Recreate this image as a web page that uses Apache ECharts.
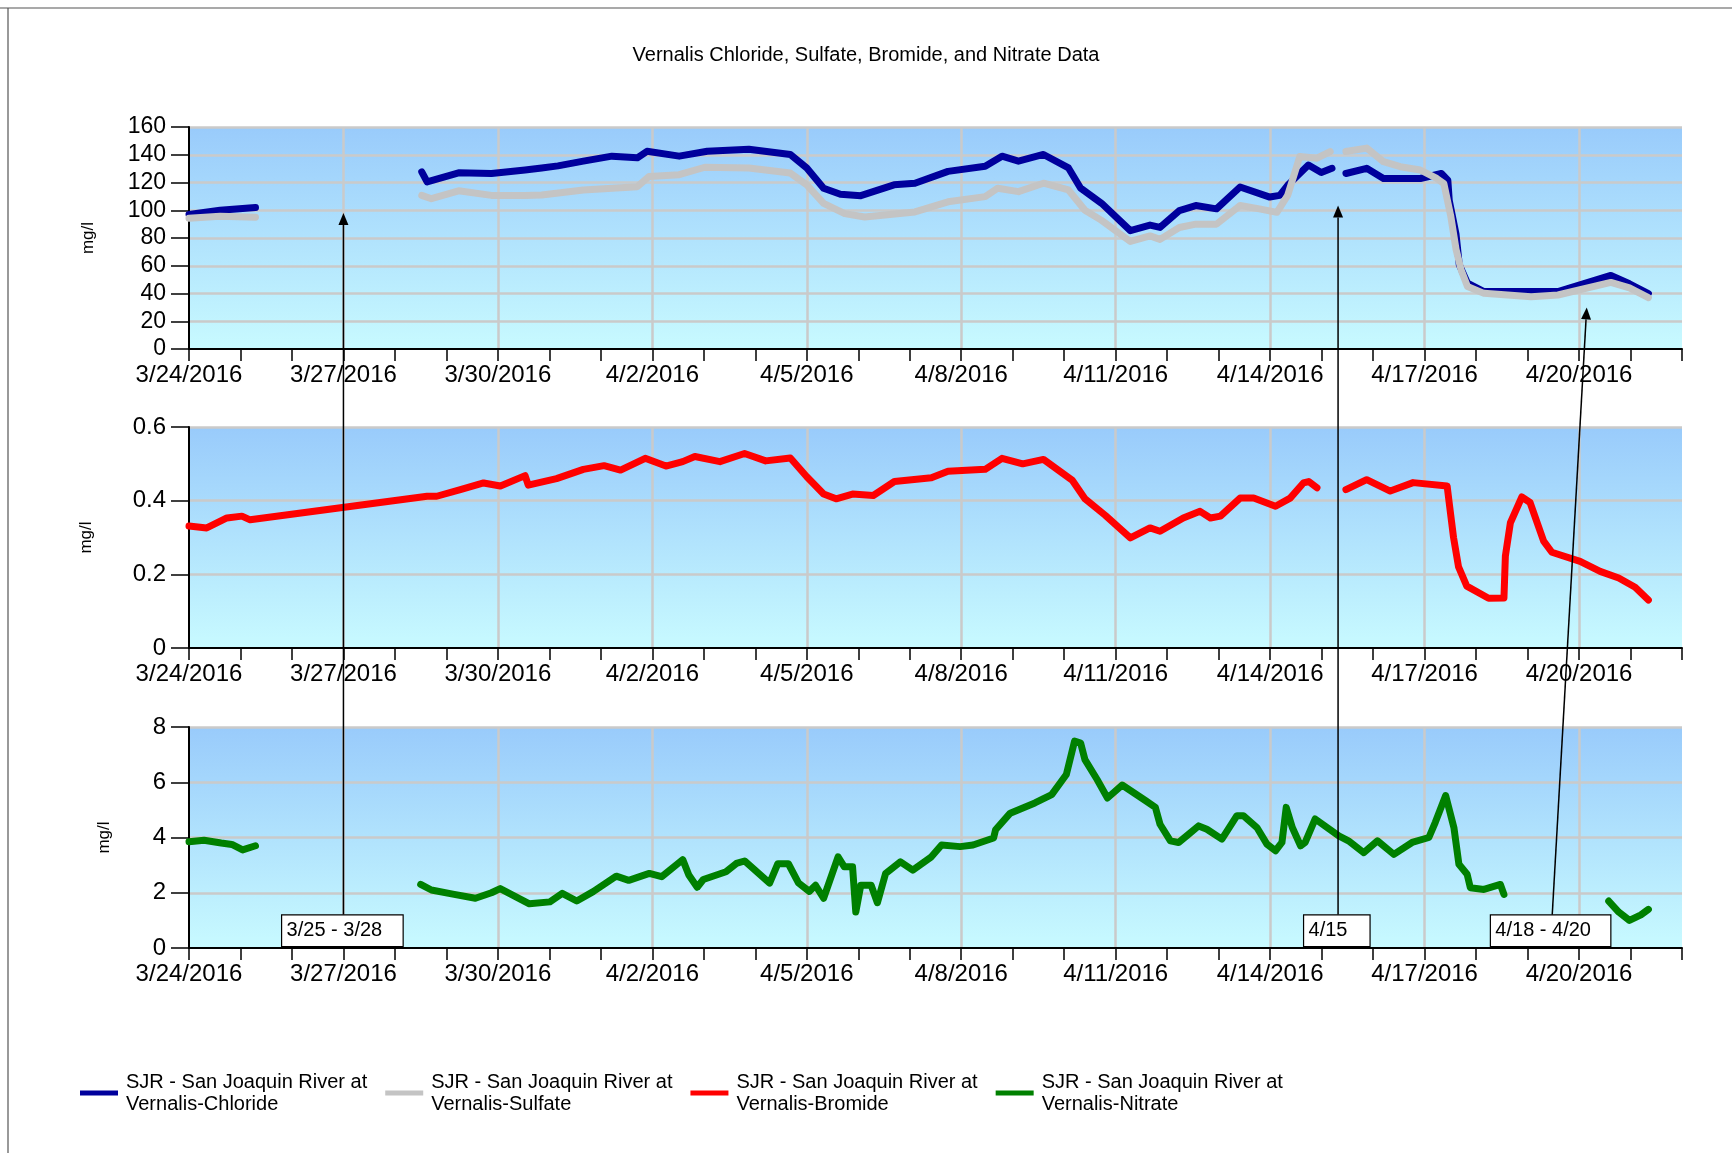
<!DOCTYPE html>
<html><head><meta charset="utf-8">
<script src="https://cdn.jsdelivr.net/npm/echarts@6/dist/echarts.min.js"></script>
<style>html,body{margin:0;padding:0;background:#fff}#c{width:1732px;height:1153px}</style>
</head><body><div id="c"></div><script>
// ---------------- DATA ----------------
const chartTitle = 'Vernalis Chloride, Sulfate, Bromide, and Nitrate Data';
const seriesNames = [
  'SJR - San Joaquin River at\nVernalis-Chloride',
  'SJR - San Joaquin River at\nVernalis-Sulfate',
  'SJR - San Joaquin River at\nVernalis-Bromide',
  'SJR - San Joaquin River at\nVernalis-Nitrate'
];
const axisStartDate = [2016, 3, 24];   // 3/24/2016
const axisDays = 29;                    // through 4/22/2016
const yUnit = 'mg/l';
const yMax = [160, 0.6, 8];
const yStep = [20, 0.2, 2];

// [time (M/D HH:MM, 2016), value]; null = data gap
const chlorideData = [
 ['3/24 00:00',97],['3/24 14:30',100],['3/25 07:00',102],['3/26 12:00',null],
 ['3/28 12:30',127.7],['3/28 15:00',120.4],['3/29 05:40',127],['3/29 21:00',126.5],['3/30 12:40',129],['3/30 20:25',130.5],['3/31 04:00',132],['3/31 15:50',135.4],['4/1 05:10',139],['4/1 17:00',137.8],['4/1 21:30',142.5],['4/2 12:30',139],['4/3 01:35',142.5],['4/3 21:00',143.9],['4/4 16:20',140.2],['4/5 00:00',130.5],['4/5 07:50',115.9],['4/5 15:40',111.5],['4/6 01:10',110.5],['4/6 16:40',118.3],['4/7 02:25',119.5],['4/7 17:50',128],['4/8 11:10',131.7],['4/8 19:00',139],['4/9 02:40',135.4],['4/9 14:20',140.2],['4/10 02:00',130.5],['4/10 07:40',115.9],['4/10 17:25',105],['4/11 06:50',85.3],['4/11 16:00',89.3],['4/11 20:40',87.6],['4/12 05:40',99.8],['4/12 13:20',103.4],['4/12 23:00',101],['4/13 10:00',116.8],['4/13 23:50',109.5],['4/14 04:30',110.7],['4/14 08:10',118],['4/14 17:50',132.6],['4/14 23:50',127.2],['4/15 04:50',130.2],['4/15 08:00',null],
 ['4/15 11:20',126.5],['4/15 21:00',130.2],['4/16 04:50',122.9],['4/16 12:40',122.9],['4/16 22:00',122.9],['4/17 07:50',126.5],['4/17 10:50',121.7],['4/17 11:30',107],['4/17 14:40',82.7],['4/17 16:10',60.8],['4/17 20:00',47.4],['4/18 03:40',41.4],['4/18 11:30',41.4],['4/19 01:40',41.4],['4/19 14:10',41.4],['4/20 14:50',53],['4/20 23:30',47],['4/21 08:20',40]
];
const sulfateData = [
 ['3/24 00:00',94.2],['3/24 14:30',95.6],['3/25 07:00',95],['3/26 12:00',null],
 ['3/28 12:30',110.7],['3/28 17:00',108.3],['3/29 05:40',114],['3/29 21:00',110.7],['3/30 12:40',110.7],['3/30 20:25',111],['3/31 15:50',114.6],['4/1 17:00',117],['4/1 22:30',124.4],['4/2 12:30',125.6],['4/3 00:30',131],['4/3 21:00',130.5],['4/4 16:20',126.8],['4/5 00:00',118.3],['4/5 07:50',104.9],['4/5 17:40',97.6],['4/6 03:00',95.1],['4/7 02:25',98.8],['4/7 17:50',106.1],['4/8 11:10',109.8],['4/8 17:00',115.9],['4/9 02:40',113.4],['4/9 14:20',119.5],['4/10 02:00',114.6],['4/10 09:40',100],['4/10 17:25',92.7],['4/11 06:50',77.5],['4/11 16:00',81.5],['4/11 20:40',79],['4/12 05:40',87.6],['4/12 13:20',90],['4/12 23:00',90],['4/13 10:00',103.4],['4/13 19:00',101],['4/14 03:10',98.5],['4/14 08:10',110.7],['4/14 13:50',138.7],['4/14 21:50',137.5],['4/15 04:00',142.3],['4/15 08:00',null],
 ['4/15 11:20',142.3],['4/15 21:00',144.8],['4/16 04:50',135],['4/16 12:40',131.4],['4/16 22:00',129],['4/17 05:40',122.9],['4/17 09:00',119.2],['4/17 12:10',96.1],['4/17 14:40',71.8],['4/17 17:00',57.2],['4/17 20:00',45],['4/18 03:40',40.1],['4/19 01:40',37.7],['4/19 14:10',38.9],['4/20 14:50',48],['4/20 23:30',44],['4/21 08:20',37]
];
const bromideData = [
 ['3/24 00:00',0.331],['3/24 08:15',0.326],['3/24 17:40',0.353],['3/25 00:40',0.358],['3/25 04:30',0.348],
 ['3/28 15:00',0.412],['3/28 19:30',0.412],['3/29 06:30',0.43],['3/29 17:20',0.448],['3/30 01:10',0.44],['3/30 12:40',0.468],['3/30 14:10',0.442],['3/31 03:20',0.46],['3/31 15:50',0.485],['4/1 01:30',0.495],['4/1 09:10',0.483],['4/1 20:40',0.515],['4/2 06:20',0.494],['4/2 14:10',0.506],['4/2 19:50',0.52],['4/3 07:30',0.506],['4/3 19:00',0.528],['4/4 04:50',0.508],['4/4 16:20',0.516],['4/5 00:00',0.465],['4/5 07:50',0.418],['4/5 13:40',0.405],['4/5 21:20',0.418],['4/6 07:00',0.414],['4/6 16:50',0.452],['4/7 10:05',0.462],['4/7 17:50',0.48],['4/8 11:10',0.485],['4/8 19:00',0.515],['4/9 04:40',0.5],['4/9 14:20',0.512],['4/10 03:50',0.455],['4/10 09:40',0.405],['4/10 19:10',0.36],['4/11 06:50',0.299],['4/11 16:00',0.326],['4/11 20:40',0.317],['4/12 07:30',0.353],['4/12 15:20',0.371],['4/12 20:10',0.353],['4/13 00:50',0.358],['4/13 10:00',0.407],['4/13 16:20',0.407],['4/14 02:30',0.385],['4/14 09:20',0.407],['4/14 15:30',0.448],['4/14 18:00',0.452],['4/14 21:50',0.435],['4/15 04:00',null],
 ['4/15 11:20',0.43],['4/15 21:00',0.457],['4/16 08:00',0.426],['4/16 18:40',0.449],['4/17 10:30',0.44],['4/17 11:40',0.385],['4/17 13:30',0.30],['4/17 15:50',0.22],['4/17 19:40',0.168],['4/18 05:50',0.135],['4/18 13:00',0.136],['4/18 13:40',0.25],['4/18 16:00',0.34],['4/18 21:20',0.41],['4/19 01:10',0.395],['4/19 07:30',0.29],['4/19 11:20',0.26],['4/20 00:30',0.235],['4/20 09:50',0.208],['4/20 18:30',0.19],['4/21 02:10',0.165],['4/21 08:20',0.13]
];
const nitrateData = [
 ['3/24 00:00',3.85],['3/24 07:00',3.9],['3/24 15:00',3.8],['3/24 20:00',3.75],['3/25 01:00',3.55],['3/25 07:00',3.7],['3/26 12:00',null],
 ['3/28 12:00',2.3],['3/28 17:00',2.1],['3/29 03:00',1.95],['3/29 13:30',1.8],['3/29 21:00',2.0],['3/30 01:05',2.15],['3/30 14:40',1.6],['3/31 00:15',1.67],['3/31 06:00',1.98],['3/31 12:45',1.7],['3/31 20:25',2.04],['4/1 07:10',2.6],['4/1 13:00',2.45],['4/1 22:35',2.7],['4/2 04:20',2.58],['4/2 14:10',3.2],['4/2 17:00',2.64],['4/2 20:55',2.2],['4/2 23:45',2.48],['4/3 10:20',2.76],['4/3 15:10',3.06],['4/3 19:00',3.15],['4/4 06:40',2.35],['4/4 10:30',3.05],['4/4 15:25',3.05],['4/4 20:10',2.35],['4/5 01:10',2.05],['4/5 04:05',2.27],['4/5 07:50',1.8],['4/5 14:35',3.3],['4/5 17:30',2.94],['4/5 21:20',2.94],['4/5 22:50',1.3],['4/6 01:10',2.27],['4/6 06:00',2.27],['4/6 08:55',1.64],['4/6 12:45',2.7],['4/6 19:40',3.12],['4/7 01:25',2.82],['4/7 10:05',3.3],['4/7 14:50',3.73],['4/7 23:30',3.67],['4/8 05:30',3.73],['4/8 15:05',3.98],['4/8 16:00',4.28],['4/8 22:50',4.88],['4/9 10:20',5.25],['4/9 18:10',5.55],['4/10 01:00',6.28],['4/10 04:50',7.49],['4/10 07:40',7.42],['4/10 09:40',6.82],['4/10 15:20',6.1],['4/10 20:10',5.43],['4/11 03:00',5.9],['4/11 14:00',5.33],['4/11 18:30',5.09],['4/11 20:40',4.48],['4/12 01:30',3.88],['4/12 05:20',3.82],['4/12 10:00',4.12],['4/12 14:40',4.42],['4/12 18:30',4.3],['4/13 01:30',3.94],['4/13 08:30',4.79],['4/13 11:30',4.79],['4/13 17:50',4.36],['4/13 22:30',3.76],['4/14 02:30',3.52],['4/14 05:30',3.82],['4/14 07:30',5.09],['4/14 10:20',4.36],['4/14 14:10',3.7],['4/14 16:20',3.82],['4/14 21:00',4.67],['4/15 08:00',4.06],['4/15 12:30',3.88],['4/15 19:40',3.45],['4/16 02:00',3.88],['4/16 09:40',3.39],['4/16 18:10',3.82],['4/17 02:00',4.0],['4/17 05:00',4.55],['4/17 09:50',5.52],['4/17 13:40',4.36],['4/17 16:00',3.03],['4/17 19:50',2.67],['4/17 21:20',2.18],['4/18 03:40',2.12],['4/18 11:20',2.3],['4/18 13:00',1.94],['4/19 12:00',null],
 ['4/20 13:50',1.7],['4/20 18:30',1.3],['4/20 23:30',1.0],['4/21 04:50',1.2],['4/21 08:20',1.4]
];

// annotation boxes (drawn in the nitrate panel) with arrows up to the chloride panel
const annotationTexts = ['3/25 - 3/28', '4/15', '4/18 - 4/20'];
const annotationBoxFrom = ['3/25 19:10', '4/14 15:35', '4/18 06:40'];
const annotationBoxTo = ['3/28 03:50', '4/15 22:35', '4/20 14:50'];
const annotationBoxTopValue = 1.2;
const annotationArrowFrom = ['3/27 00:00', '4/15 07:40', '4/19 11:30'];
const annotationArrowTo = ['3/27 00:00', '4/15 07:40', '4/20 03:35'];
const annotationArrowValue = [98, 103.5, 30];

// ---------------- HELPERS ----------------
const T0 = Date.UTC(axisStartDate[0], axisStartDate[1] - 1, axisStartDate[2]);
function toDay(s) {
  const [md, hm] = s.split(' ');
  const [m, d] = md.split('/').map(Number);
  const [h, mi] = hm.split(':').map(Number);
  return (Date.UTC(2016, m - 1, d, h, mi) - T0) / 86400000;
}
function prep(arr) { return arr.map(p => [toDay(p[0]), p[1] === null ? '-' : p[1]]); }
function dayLabel(v) {
  if (Math.abs(v % 3) > 1e-6) return '';
  const dt = new Date(T0 + v * 86400000);
  return (dt.getUTCMonth() + 1) + '/' + dt.getUTCDate() + '/' + dt.getUTCFullYear();
}

const FONT = 'Liberation Sans, Arial, sans-serif';
const grids = [
  { left: 189, right: 50, top: 127, height: 222 },
  { left: 189, right: 50, top: 427, height: 221 },
  { left: 189, right: 50, top: 727, height: 221 }
];
const bg = new echarts.graphic.LinearGradient(0, 0, 0, 1, [
  { offset: 0, color: '#99CBFB' }, { offset: 1, color: '#C8FAFF' }
]);

const chart = echarts.init(document.getElementById('c'), null, { renderer: 'canvas' });
const xTickAxes = grids.map((g, i) => ({
  type: 'value', gridIndex: i, min: 0, max: axisDays, interval: 1, position: 'bottom',
  axisLine: { show: true, onZero: false, lineStyle: { color: '#000', width: 2 } },
  axisTick: { show: true, length: 12, lineStyle: { color: '#000', width: 1.5 } },
  axisLabel: { show: false }, splitLine: { show: false }
}));
const xLabelAxes = grids.map((g, i) => ({
  type: 'value', gridIndex: i, min: 0, max: axisDays, interval: 3, position: 'bottom',
  axisLine: { show: false }, axisTick: { show: false },
  axisLabel: { show: true, formatter: dayLabel, color: '#000', fontSize: 24, fontFamily: FONT, margin: 14, showMaxLabel: false },
  splitLine: { show: true, showMinLine: false, showMaxLine: false, lineStyle: { color: '#CACACA', width: 2.5 } }
}));
const nameGaps = [92, 94, 76];
const yAxes = grids.map((g, i) => ({
  type: 'value', gridIndex: i, min: 0, max: yMax[i], interval: yStep[i],
  name: yUnit, nameLocation: 'middle', nameRotate: 90, nameGap: nameGaps[i],
  nameTextStyle: { fontSize: 17, color: '#000', fontFamily: FONT },
  axisLine: { show: true, lineStyle: { color: '#000', width: 2 } },
  axisTick: { show: true, length: 18, lineStyle: { color: '#000', width: 1.5 } },
  axisLabel: { color: '#000', fontSize: i === 0 ? 23 : 24, fontFamily: FONT, margin: 23,
    formatter: v => (i === 1 ? (v === 0 ? '0' : v.toFixed(1)) : String(v)) },
  splitLine: { show: true, showMinLine: false, lineStyle: { color: '#CACACA', width: 2.5 } }
}));

const colors = ['#00009C', '#C4C4C4', '#FF0000', '#008000'];
const datasets = [chlorideData, sulfateData, bromideData, nitrateData];
const panelOf = [0, 0, 1, 2];
const series = datasets.map((d, i) => ({
  name: seriesNames[i], type: 'line', xAxisIndex: panelOf[i], yAxisIndex: panelOf[i],
  data: prep(d), showSymbol: false, symbol: 'diamond', symbolSize: 7, connectNulls: false,
  lineStyle: { color: colors[i], width: 7, join: 'round', cap: 'round' },
  itemStyle: { color: colors[i] }, animation: false, silent: true
}));

chart.setOption({
  animation: false,
  backgroundColor: '#fff',
  title: { text: chartTitle, left: 'center', top: 40, textStyle: { fontSize: 20, fontWeight: 'normal', color: '#000', fontFamily: FONT } },
  grid: grids.map(g => Object.assign({ show: true, backgroundColor: bg, borderWidth: 0, containLabel: false }, g)),
  xAxis: xTickAxes.concat(xLabelAxes),
  yAxis: yAxes,
  legend: {
    data: seriesNames, left: 75, top: 1066, orient: 'horizontal',
    icon: 'rect', itemWidth: 38, itemHeight: 5, itemGap: 18,
    textStyle: { fontSize: 20, lineHeight: 22, color: '#000', fontFamily: FONT, padding: [0, 0, 0, 3] }
  },
  series: series
});

// ---------------- annotations (positions from data via the axes) ----------------
function drawAnnotations() {
  const els = [];
  // page frame
  els.push({ type: 'line', shape: { x1: 0, y1: 8, x2: 1732, y2: 8 }, style: { stroke: '#555', lineWidth: 1.2 }, z: 200 });
  els.push({ type: 'line', shape: { x1: 8, y1: 8, x2: 8, y2: 1153 }, style: { stroke: '#555', lineWidth: 1.2 }, z: 200 });
  for (let i = 0; i < annotationTexts.length; i++) {
    const b0 = chart.convertToPixel({ gridIndex: 2 }, [toDay(annotationBoxFrom[i]), annotationBoxTopValue]);
    const b1 = chart.convertToPixel({ gridIndex: 2 }, [toDay(annotationBoxTo[i]), 0]);
    const base = chart.convertToPixel({ gridIndex: 2 }, [toDay(annotationArrowFrom[i]), annotationBoxTopValue]);
    const tip = chart.convertToPixel({ gridIndex: 0 }, [toDay(annotationArrowTo[i]), annotationArrowValue[i]]);
    const bottomY = b1[1] - 1.5;
    els.push({ type: 'rect', shape: { x: b0[0], y: b0[1], width: b1[0] - b0[0], height: bottomY - b0[1] },
      style: { fill: '#fff', stroke: '#000', lineWidth: 1.2 }, z: 210 });
    els.push({ type: 'text', x: b0[0] + 5, y: (b0[1] + bottomY) / 2,
      style: { text: annotationTexts[i], fill: '#000', font: '20px ' + FONT, verticalAlign: 'middle', align: 'left' }, z: 211 });
    const dx = tip[0] - base[0], dy = tip[1] - base[1];
    const len = Math.sqrt(dx * dx + dy * dy), ux = dx / len, uy = dy / len;
    const hl = 12, hw = 5;
    const hx = tip[0] - ux * hl, hy = tip[1] - uy * hl;
    els.push({ type: 'line', shape: { x1: base[0], y1: base[1], x2: hx, y2: hy }, style: { stroke: '#000', lineWidth: 1.5 }, z: 205 });
    els.push({ type: 'polygon', shape: { points: [[tip[0], tip[1]], [hx - uy * hw, hy + ux * hw], [hx + uy * hw, hy - ux * hw]] },
      style: { fill: '#000' }, z: 205 });
  }
  chart.setOption({ graphic: { elements: els } });
}
drawAnnotations();
</script></body></html>
